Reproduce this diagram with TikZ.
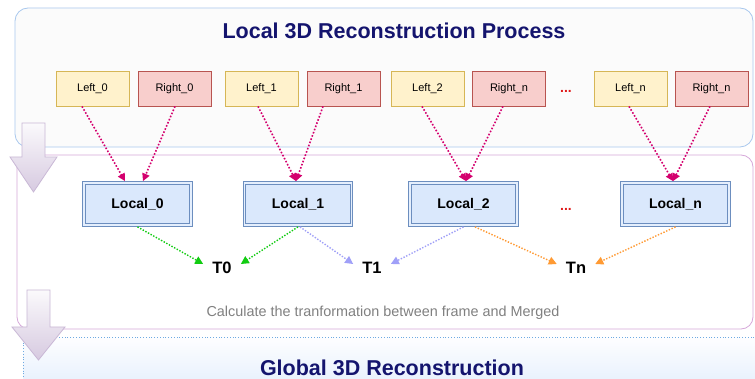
\documentclass[tikz,border=0pt]{standalone}
\usepackage{fontspec}
\setmainfont{Liberation Sans}
\usetikzlibrary{arrows.meta,calc}
\definecolor{navy}{HTML}{14146E}
\definecolor{topborder}{HTML}{A9C8EE}
\definecolor{midborder}{HTML}{D6A8DA}
\definecolor{globborder}{HTML}{6FAAE2}
\definecolor{yelfill}{HTML}{FFF2CC}
\definecolor{yelline}{HTML}{D6B656}
\definecolor{redfill}{HTML}{F8CECC}
\definecolor{redline}{HTML}{B85450}
\definecolor{locfill}{HTML}{DAE8FC}
\definecolor{locline}{HTML}{6C8EBF}
\definecolor{mag}{HTML}{D4006E}
\definecolor{grn}{HTML}{11CC11}
\definecolor{lav}{HTML}{A0A0F8}
\definecolor{org}{HTML}{FF9A33}
\definecolor{dotred}{HTML}{E01B1B}
\definecolor{bigline}{HTML}{C9B8D6}
\tikzset{
  imgbox/.style={minimum width=73pt,minimum height=35pt,inner sep=0pt,font=\fontsize{11}{13}\selectfont},
  leftbox/.style={imgbox,draw=yelline,fill=yelfill,line width=0.8pt},
  rightbox/.style={imgbox,draw=redline,fill=redfill,line width=0.8pt},
  localbox/.style={minimum width=107pt,minimum height=42pt,inner sep=0pt,draw=locline,line width=0.8pt,
     double=locfill!70!white,double distance=1.6pt,fill=locfill,font=\bfseries\fontsize{14}{16}\selectfont},
  tnode/.style={inner xsep=9pt,inner ysep=2pt,font=\bfseries\fontsize{16.5}{18}\selectfont},
  magarrow/.style={draw=mag,line width=1.6pt,dash pattern=on 1.6pt off 1.8pt,-{Triangle[length=7.5pt,width=7.5pt]}},
  carrow/.style={draw=#1,line width=1.4pt,dash pattern=on 1.4pt off 1.6pt,-{Triangle[length=8pt,width=8pt]}},
  bigarrow/.style={top color=white!92!bigline,bottom color=bigline!75!white,draw=bigline,line width=0.8pt},
  reddots/.style={anchor=base,text=dotred,font=\bfseries\fontsize{14}{16}\selectfont}
}
\begin{document}
\begin{tikzpicture}[x=1pt,y=-1pt]
\useasboundingbox (0,0) rectangle (755,379);
\fill[white] (0,0) rectangle (755,379);
% containers
\draw[topborder,fill=black!1.5,line width=0.8pt,rounded corners=13pt] (15,8) rectangle (753,147);
\draw[midborder,fill=white,line width=0.8pt,rounded corners=12pt] (17,155) rectangle (753,329);
\draw[globborder,dotted,line width=0.8pt,top color=white!96!locfill,bottom color=locfill!75!white] (23,337) rectangle (762,392);
% titles
\node[text=navy,font=\bfseries\fontsize{21.5}{24}\selectfont] (title) at (394,31) {Local 3D Reconstruction Process};
\node[text=navy,font=\bfseries\fontsize{21.5}{24}\selectfont] (gtitle) at (392,368) {Global 3D Reconstruction};
\node[text=black!50,font=\fontsize{14.4}{16}\selectfont] (calc) at (383,313) {Calculate the tranformation between frame and Merged};
% image pairs
\node[leftbox] (L0) at (92.5,88.5) {Left\_0};
\node[rightbox] (R0) at (174.5,88.5) {Right\_0};
\node[leftbox] (L1) at (261.5,88.5) {Left\_1};
\node[rightbox] (R1) at (343.5,88.5) {Right\_1};
\node[leftbox] (L2) at (427.5,88.5) {Left\_2};
\node[rightbox] (R2) at (509,88.5) {Right\_n};
\node[reddots] (dots1) at (566,92.5) {...};
\node[leftbox] (Ln) at (630.5,88.5) {Left\_n};
\node[rightbox] (Rn) at (711.5,88.5) {Right\_n};
% local boxes
\node[localbox] (C0) at (137.5,204) {Local\_0};
\node[localbox] (C1) at (298,204) {Local\_1};
\node[localbox] (C2) at (463.5,204) {Local\_2};
\node[reddots] (dots2) at (566,211) {...};
\node[localbox] (Cn) at (675.5,204) {Local\_n};
% transforms
\node[tnode] (T0) at (222,268) {T0};
\node[tnode] (T1) at (372,268) {T1};
\node[tnode] (Tn) at (576,268) {Tn};
% magenta arrows
\draw[magarrow] ([xshift=-10.5pt]L0.south) -- ([xshift=-12.5pt,yshift=1.5pt]C0.north);
\draw[magarrow] ([xshift=0.5pt]R0.south) -- ([xshift=5.5pt,yshift=1.5pt]C0.north);
\draw[magarrow] ([xshift=-3.5pt]L1.south) -- ([xshift=-2pt,yshift=1.5pt]C1.north);
\draw[magarrow] ([xshift=-20.5pt]R1.south) -- ([xshift=-2pt,yshift=1.5pt]C1.north);
\draw[magarrow] ([xshift=-5.5pt]L2.south) -- ([xshift=2.5pt,yshift=1.5pt]C2.north);
\draw[magarrow] ([xshift=-6pt]R2.south) -- ([xshift=2.5pt,yshift=1.5pt]C2.north);
\draw[magarrow] ([xshift=-1.5pt]Ln.south) -- ([xshift=-2.5pt,yshift=1.5pt]Cn.north);
\draw[magarrow] ([xshift=-1.5pt]Rn.south) -- ([xshift=-2.5pt,yshift=1.5pt]Cn.north);
% transform arrows
\draw[carrow=grn] ([yshift=-1.5pt]C0.south) -- ([yshift=4pt]T0.west);
\draw[carrow=grn] ([yshift=-1.5pt]C1.south) -- ([yshift=4pt]T0.east);
\draw[carrow=lav] ([xshift=2pt,yshift=-1.5pt]C1.south) -- ([yshift=4pt]T1.west);
\draw[carrow=lav] ([yshift=-1.5pt]C2.south) -- ([yshift=4pt]T1.east);
\draw[carrow=org] ([xshift=11.5pt,yshift=-1.5pt]C2.south) -- ([yshift=4pt]Tn.west);
\draw[carrow=org] ([yshift=-1.5pt]Cn.south) -- ([yshift=4pt]Tn.east);
% big flow arrows
\draw[bigarrow] (22,123) -- (45,123) -- (45,157) -- (57,157) -- (33.5,192) -- (10,157) -- (22,157) -- cycle;
\draw[bigarrow] (27,290) -- (50,290) -- (50,327) -- (65,327) -- (38.5,360) -- (12,327) -- (27,327) -- cycle;
\end{tikzpicture}
\end{document}
